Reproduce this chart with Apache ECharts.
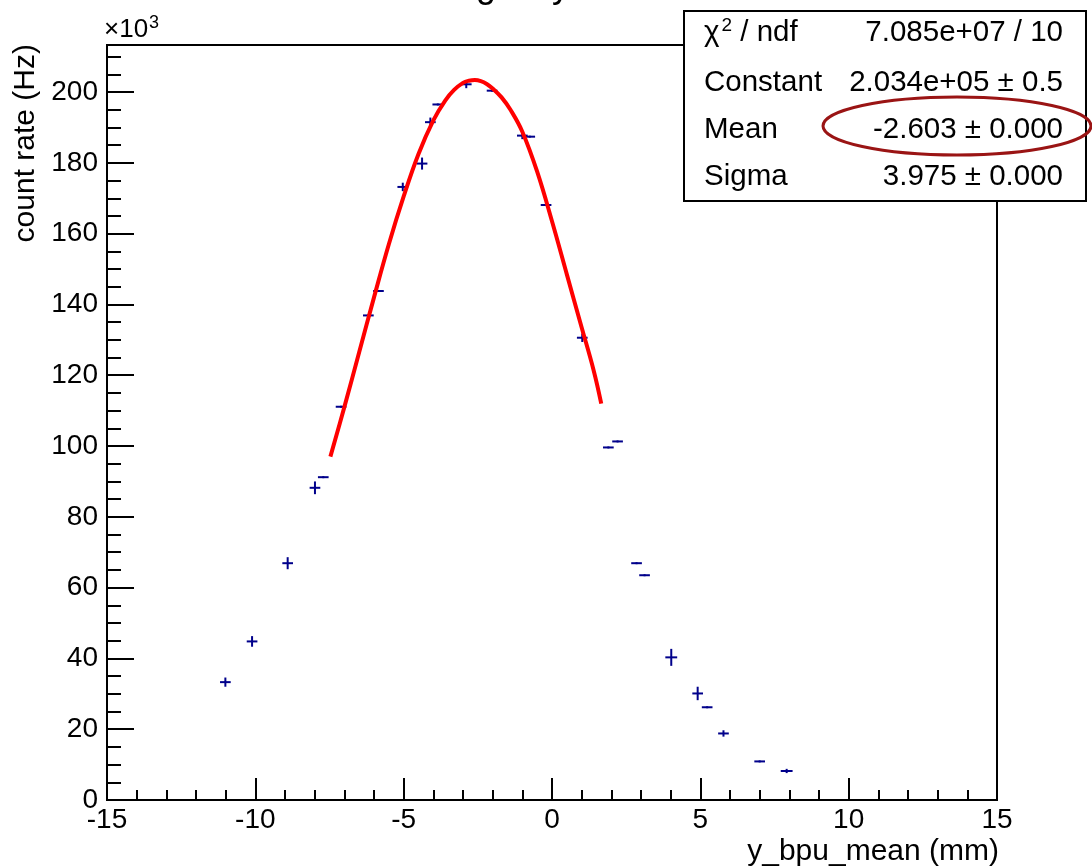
<!DOCTYPE html>
<html><head><meta charset="utf-8">
<script src="https://cdn.jsdelivr.net/npm/echarts@6/dist/echarts.min.js"></script>
<style>html,body{margin:0;padding:0;background:#fff;overflow:hidden}#c{width:1092px;height:867px}</style>
</head><body><div id="c"></div>
<script>
// measured points (x in mm, y in 10^3 Hz) with error bars
const pointX = [-11.01, -10.11, -8.91, -7.99, -7.71, -7.11, -6.19, -5.85, -5.03, -4.38, -4.10, -3.85, -2.89, -2.02, -1.00, -0.75, -0.20, 1.02, 1.90, 2.21, 2.85, 3.12, 4.02, 4.91, 5.23, 5.78, 7.00, 7.91];
const pointY = [33.3, 44.8, 66.9, 88.2, 91.2, 111.1, 136.9, 143.8, 173.2, 179.8, 191.5, 196.5, 202.2, 200.4, 187.7, 187.4, 168.1, 130.6, 99.6, 101.3, 66.9, 63.5, 40.3, 30.1, 26.2, 18.8, 10.9, 8.2];
const pointXErr = [0.18, 0.18, 0.18, 0.18, 0.18, 0.18, 0.18, 0.18, 0.18, 0.18, 0.18, 0.18, 0.18, 0.18, 0.18, 0.18, 0.18, 0.18, 0.18, 0.18, 0.18, 0.18, 0.2, 0.18, 0.18, 0.18, 0.18, 0.2];
const pointYErr = [1.3, 1.5, 1.7, 1.8, 0.2, 0.2, 0.2, 0.2, 1.2, 1.7, 1.3, 0.2, 1.1, 0.2, 1.0, 0.2, 0.2, 1.2, 0.2, 0.2, 0.2, 0.2, 2.4, 1.9, 0.2, 0.9, 0.2, 0.6];
// fitted gaussian curve
const fitX = [-7.47, -7.0, -6.5, -6.0, -5.5, -5.0, -4.5, -4.0, -3.6, -3.3, -3.0, -2.8, -2.6, -2.4, -2.2, -2.0, -1.7, -1.4, -1.0, -0.5, 0.0, 0.5, 1.0, 1.4, 1.66];
const fitY = [97.0, 111.0, 126.5, 142.0, 157.0, 170.5, 182.5, 192.0, 197.6, 200.6, 202.6, 203.2, 203.4, 203.1, 202.3, 201.0, 198.5, 195.0, 188.8, 177.5, 163.5, 148.5, 133.5, 121.5, 112.0];
// stats box
const statsLabels = ['{n|χ}{s|2}{n| / ndf}', 'Constant', 'Mean', 'Sigma'];
const statsValues = ['7.085e+07 / 10', '2.034e+05 ± 0.5', '-2.603 ± 0.000', '3.975 ± 0.000'];
const xTitle = 'y_bpu_mean (mm)';
const yTitle = 'count rate (Hz)';
const chartTitle = 'Beam scanning vs y';

const FONT = 'Liberation Sans';
const BLUE = '#00008b';
const chart = echarts.init(document.getElementById('c'), null, {renderer: 'canvas'});

const errData = pointX.map((x, i) => [x, pointY[i], pointXErr[i], pointYErr[i]]);
const fitData = fitX.map((x, i) => [x, fitY[i]]);

const lineBlack = {color: '#000', width: 2};
const statsGraphics = [];
statsGraphics.push({type: 'rect', shape: {x: 684, y: 11, width: 402, height: 190}, style: {fill: '#fff', stroke: '#000', lineWidth: 2}, z: 100});
const rowY = [33, 83, 130, 177];
statsLabels.forEach((t, i) => {
  statsGraphics.push({type: 'text', x: 704, y: rowY[i], z: 101, style: {text: t, fontFamily: FONT, fontSize: 29.5, fill: '#000', verticalAlign: 'middle', align: 'left',
    rich: {n: {fontFamily: FONT, fontSize: 29.5, fill: '#000'}, s: {fontFamily: FONT, fontSize: 19, fill: '#000', verticalAlign: 'top', padding: [0, 0, 14, 2]}}}});
  statsGraphics.push({type: 'text', x: 1063, y: rowY[i], z: 101, style: {text: statsValues[i], fontFamily: FONT, fontSize: 29.5, fill: '#000', verticalAlign: 'middle', align: 'right'}});
});
statsGraphics.push({type: 'ellipse', shape: {cx: 957, cy: 126, rx: 134, ry: 29}, style: {fill: 'none', stroke: '#9a1414', lineWidth: 3}, z: 102});

const option = {
  animation: false,
  backgroundColor: '#fff',
  textStyle: {fontFamily: FONT},
  grid: {left: 107, top: 45, width: 890, height: 755, show: true, borderColor: '#000', borderWidth: 2, backgroundColor: 'transparent', containLabel: false},
  xAxis: [
    {type: 'value', position: 'bottom', min: -15, max: 15, interval: 5,
     axisLine: {show: true, onZero: false, lineStyle: lineBlack},
     axisTick: {show: true, inside: true, length: 22, lineStyle: lineBlack},
     axisLabel: {color: '#000', fontSize: 28, margin: 6, fontFamily: FONT},
     splitLine: {show: false}},
    {type: 'value', position: 'bottom', min: -15, max: 15, interval: 1,
     axisLine: {show: false, onZero: false},
     axisTick: {show: true, inside: true, length: 10, lineStyle: lineBlack},
     axisLabel: {show: false}, splitLine: {show: false}}
  ],
  yAxis: [
    {type: 'value', position: 'left', min: 0, max: 213.3, interval: 20,
     axisLine: {show: true, onZero: false, lineStyle: lineBlack},
     axisTick: {show: true, inside: true, length: 27, lineStyle: lineBlack},
     axisLabel: {color: '#000', fontSize: 28, margin: 9, fontFamily: FONT, showMaxLabel: false,
       formatter: v => (Math.abs(v % 20) < 1e-6 ? String(v) : '')},
     splitLine: {show: false}},
    {type: 'value', position: 'left', min: 0, max: 213.3, interval: 5,
     axisLine: {show: false, onZero: false},
     axisTick: {show: true, inside: true, length: 14, lineStyle: lineBlack},
     axisLabel: {show: false}, splitLine: {show: false}}
  ],
  series: [
    {type: 'custom', xAxisIndex: 0, yAxisIndex: 0, data: errData, z: 3,
     renderItem: function (params, api) {
       const x = api.value(0), y = api.value(1), xe = api.value(2), ye = api.value(3);
       const l = api.coord([x - xe, y]), r = api.coord([x + xe, y]);
       const t = api.coord([x, y + ye]), b = api.coord([x, y - ye]);
       const st = {stroke: BLUE, lineWidth: 2};
       return {type: 'group', children: [
         {type: 'line', shape: {x1: l[0], y1: l[1], x2: r[0], y2: r[1]}, style: st},
         {type: 'line', shape: {x1: t[0], y1: Math.min(t[1], l[1] - 1), x2: b[0], y2: Math.max(b[1], l[1] + 1)}, style: st}
       ]};
     }},
    {type: 'line', xAxisIndex: 0, yAxisIndex: 0, data: fitData, smooth: 0.4, showSymbol: false, symbol: 'none', z: 4,
     lineStyle: {color: '#ff0000', width: 4}}
  ],
  graphic: [
    {type: 'text', x: 570, y: 5, style: {text: chartTitle, fontFamily: FONT, fontSize: 36, fill: '#000', align: 'right', verticalAlign: 'bottom'}},
    {type: 'text', x: 104, y: 30, style: {text: '{a|×10}{b|3}', fontFamily: FONT, verticalAlign: 'middle',
      rich: {a: {fontFamily: FONT, fontSize: 26, fill: '#000'}, b: {fontFamily: FONT, fontSize: 18, fill: '#000', verticalAlign: 'top', padding: [0, 0, 14, 1]}}}},
    {type: 'text', x: 26, y: 44, rotation: Math.PI / 2, style: {text: yTitle, fontFamily: FONT, fontSize: 30, fill: '#000', align: 'right', verticalAlign: 'middle'}},
    {type: 'text', x: 999, y: 852, style: {text: xTitle, fontFamily: FONT, fontSize: 30, fill: '#000', align: 'right', verticalAlign: 'middle'}}
  ].concat(statsGraphics)
};
chart.setOption(option);
</script>
</body></html>
